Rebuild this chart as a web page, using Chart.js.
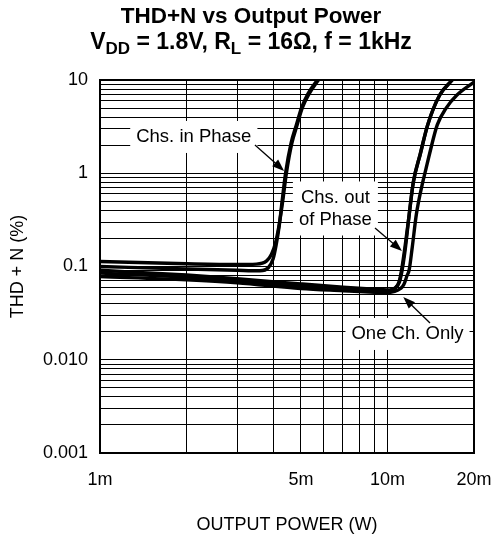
<!DOCTYPE html>
<html>
<head>
<meta charset="utf-8">
<script src="https://cdn.jsdelivr.net/npm/chart.js@4.4.1/dist/chart.umd.min.js"></script>
<style>
  html, body { margin: 0; padding: 0; background: #fff; }
  #wrap { width: 494px; height: 540px; position: relative; }
</style>
</head>
<body>
<div id="wrap"><canvas id="c"></canvas></div>
<script>
// ---- Data (output power in W, THD+N in %) ----
const inPhaseA_x = [0.001, 0.002, 0.003, 0.0035, 0.0038, 0.00395, 0.00408, 0.0042, 0.00432, 0.00445, 0.00465, 0.00485, 0.00505, 0.00535, 0.00575];
const inPhaseA_y = [0.113, 0.107, 0.105, 0.106, 0.115, 0.135, 0.18, 0.28, 0.5, 1.0, 2.1, 3.3, 5.0, 7.2, 10];

const inPhaseB_x = [0.001, 0.002, 0.003, 0.0036, 0.00385, 0.004, 0.0041, 0.0042, 0.0043, 0.00442, 0.00462, 0.00482, 0.00502, 0.0053, 0.0057];
const inPhaseB_y = [0.100, 0.094, 0.091, 0.090, 0.097, 0.12, 0.17, 0.27, 0.5, 1.0, 2.1, 3.3, 5.0, 7.2, 10];

const outPhaseA_x = [0.001, 0.002, 0.003, 0.005, 0.007, 0.009, 0.010, 0.0107, 0.0110, 0.0112, 0.0115, 0.0119, 0.0123, 0.0130, 0.0138, 0.0152, 0.0168];
const outPhaseA_y = [0.091, 0.081, 0.074, 0.065, 0.060, 0.057, 0.056, 0.060, 0.070, 0.092, 0.16, 0.36, 0.8, 1.6, 3.3, 6.9, 10];

const outPhaseB_x = [0.001, 0.002, 0.003, 0.005, 0.007, 0.009, 0.010, 0.0106, 0.0110, 0.01125, 0.01155, 0.0119, 0.0123, 0.0130, 0.0138, 0.0152, 0.0168];
const outPhaseB_y = [0.085, 0.077, 0.071, 0.061, 0.057, 0.055, 0.0545, 0.058, 0.068, 0.092, 0.16, 0.36, 0.8, 1.6, 3.3, 6.9, 10];

const oneCh_x = [0.001, 0.002, 0.003, 0.005, 0.007, 0.009, 0.0098, 0.0106, 0.0111, 0.0114, 0.0117, 0.0119, 0.0122, 0.0126, 0.0132, 0.0136, 0.0140, 0.0149, 0.0160, 0.01745, 0.020];
const oneCh_y = [0.078, 0.072, 0.067, 0.058, 0.055, 0.053, 0.0525, 0.054, 0.058, 0.064, 0.080, 0.092, 0.162, 0.36, 0.75, 1.1, 1.6, 3.3, 5.0, 6.9, 9.5];

// ---- Ticks ----
const xTickValues = [0.001, 0.002, 0.003, 0.004, 0.005, 0.006, 0.007, 0.008, 0.009, 0.010, 0.020];
const xLabelValues = [0.001, 0.005, 0.010, 0.020];
const xLabelTexts = ['1m', '5m', '10m', '20m'];
const yDecades = [0.001, 0.01, 0.1, 1];
const yLabelValues = [0.001, 0.01, 0.1, 1, 10];
const yLabelTexts = ['0.001', '0.010', '0.1', '1', '10'];

// ---- Texts ----
const titleLine1 = 'THD+N vs Output Power';
const titleLine2 = [['V', false], ['DD', true], [' = 1.8V, R', false], ['L', true], [' = 16\u03A9, f = 1kHz', false]];
const xTitle = 'OUTPUT POWER (W)';
const yTitle = 'THD + N (%)';

// annotations (in data coordinates)
const noteTexts = [['Chs. in Phase'], ['Chs. out', 'of Phase'], ['One Ch. Only']];
const noteAt = [[0.00212, 2.45], [0.00659, 0.419], [0.01174, 0.0189]];
const arrowFrom = [[0.00346, 2.01], [0.00905, 0.259], [0.01406, 0.0248]];
const arrowTo = [[0.00437, 1.06], [0.01123, 0.147], [0.01135, 0.0471]];

const FONT = '"Liberation Sans", Arial, Helvetica, sans-serif';

function pts(xs, ys) { return xs.map((x, i) => ({ x: x, y: ys[i] })); }
function near(a, b) { return Math.abs(a - b) <= Math.abs(b) * 1e-6; }

const yTickValues = [];
yDecades.forEach(d => { for (let k = 1; k <= 9; k++) yTickValues.push(d * k); });
yTickValues.push(10);

function ds(xs, ys) {
  return {
    data: pts(xs, ys),
    borderColor: '#000',
    borderWidth: 3.4,
    pointRadius: 0,
    fill: false,
    cubicInterpolationMode: 'monotone'
  };
}

const decorPlugin = {
  id: 'decor',
  afterDatasetsDraw(chart) {
    const ctx = chart.ctx;
    const xs = chart.scales.x, ys = chart.scales.y;
    const ca = chart.chartArea;
    const P = (p) => [xs.getPixelForValue(p[0]), ys.getPixelForValue(p[1])];
    ctx.save();
    // frame
    ctx.strokeStyle = '#000';
    ctx.lineWidth = 2;
    ctx.strokeRect(ca.left, ca.top, ca.right - ca.left, ca.bottom - ca.top);

    // annotations
    ctx.font = '18.5px ' + FONT;
    const lh = 22;
    noteTexts.forEach((lines, i) => {
      const c = P(noteAt[i]);
      const w = Math.max(...lines.map(t => ctx.measureText(t).width)) + 12;
      const h = lines.length * lh + 10;
      ctx.fillStyle = '#fff';
      ctx.fillRect(c[0] - w / 2, c[1] - h / 2, w, h);
      ctx.fillStyle = '#000';
      ctx.textAlign = 'center';
      ctx.textBaseline = 'middle';
      lines.forEach((t, j) => {
        ctx.fillText(t, c[0], c[1] - (lines.length - 1) * lh / 2 + j * lh);
      });
      // arrow
      const a = P(arrowFrom[i]), b = P(arrowTo[i]);
      const ang = Math.atan2(b[1] - a[1], b[0] - a[0]);
      const hl = 12, hw = 4.5;
      ctx.strokeStyle = '#000';
      ctx.lineWidth = 1.3;
      ctx.beginPath();
      ctx.moveTo(a[0], a[1]);
      ctx.lineTo(b[0] - Math.cos(ang) * hl * 0.8, b[1] - Math.sin(ang) * hl * 0.8);
      ctx.stroke();
      ctx.beginPath();
      ctx.moveTo(b[0], b[1]);
      ctx.lineTo(b[0] - Math.cos(ang) * hl - Math.sin(ang) * hw, b[1] - Math.sin(ang) * hl + Math.cos(ang) * hw);
      ctx.lineTo(b[0] - Math.cos(ang) * hl + Math.sin(ang) * hw, b[1] - Math.sin(ang) * hl - Math.cos(ang) * hw);
      ctx.closePath();
      ctx.fill();
    });
    ctx.restore();
  },
  afterDraw(chart) {
    const ctx = chart.ctx;
    const ca = chart.chartArea;
    ctx.save();
    ctx.fillStyle = '#000';
    // title line 1
    ctx.font = 'bold 22.5px ' + FONT;
    ctx.textAlign = 'center';
    ctx.textBaseline = 'alphabetic';
    ctx.fillText(titleLine1, 251, 23);
    // title line 2 with subscripts
    const mainF = 'bold 23px ' + FONT, subF = 'bold 17px ' + FONT;
    let total = 0;
    titleLine2.forEach(s => { ctx.font = s[1] ? subF : mainF; total += ctx.measureText(s[0]).width; });
    let x = 251 - total / 2;
    ctx.textAlign = 'left';
    titleLine2.forEach(s => {
      ctx.font = s[1] ? subF : mainF;
      ctx.fillText(s[0], x, s[1] ? 54 : 48.5);
      x += ctx.measureText(s[0]).width;
    });
    // axis titles
    ctx.font = '18px ' + FONT;
    ctx.textAlign = 'center';
    ctx.textBaseline = 'middle';
    ctx.fillText(xTitle, (ca.left + ca.right) / 2, 525);
    ctx.translate(18, (ca.top + ca.bottom) / 2);
    ctx.rotate(-Math.PI / 2);
    ctx.fillText(yTitle, 0, 0);
    ctx.restore();
  }
};

new Chart(document.getElementById('c'), {
  type: 'line',
  data: {
    datasets: [
      ds(inPhaseA_x, inPhaseA_y),
      ds(inPhaseB_x, inPhaseB_y),
      ds(outPhaseA_x, outPhaseA_y),
      ds(outPhaseB_x, outPhaseB_y),
      ds(oneCh_x, oneCh_y)
    ]
  },
  options: {
    responsive: true,
    maintainAspectRatio: false,
    animation: false,
    devicePixelRatio: 1,
    layout: { padding: { top: 80, right: 20, left: 0, bottom: 0 } },
    plugins: { legend: { display: false }, title: { display: false }, tooltip: { enabled: false } },
    scales: {
      x: {
        type: 'logarithmic',
        min: 0.001, max: 0.02,
        afterBuildTicks: s => { s.ticks = xTickValues.map(v => ({ value: v })); },
        afterFit: s => { s.height = 87; s.paddingLeft = 0; s.paddingRight = 0; },
        grid: { color: '#000', lineWidth: 1, drawTicks: false, tickLength: 0 },
        border: { display: true, color: '#000', width: 2 },
        ticks: {
          autoSkip: false, maxRotation: 0, padding: 16,
          color: '#000', font: { family: FONT, size: 18 },
          callback: (v) => { const i = xLabelValues.findIndex(t => near(v, t)); return i >= 0 ? xLabelTexts[i] : ''; }
        }
      },
      y: {
        type: 'logarithmic',
        min: 0.001, max: 10,
        afterBuildTicks: s => { s.ticks = yTickValues.map(v => ({ value: v })); },
        afterFit: s => { s.width = 100; s.paddingTop = 0; s.paddingBottom = 0; },
        grid: { color: '#000', lineWidth: 1, drawTicks: false, tickLength: 0 },
        border: { display: true, color: '#000', width: 2 },
        ticks: {
          autoSkip: false, padding: 12,
          color: '#000', font: { family: FONT, size: 18 },
          callback: (v) => { const i = yLabelValues.findIndex(t => near(v, t)); return i >= 0 ? yLabelTexts[i] : ''; }
        }
      }
    }
  },
  plugins: [decorPlugin]
});
</script>
</body>
</html>
